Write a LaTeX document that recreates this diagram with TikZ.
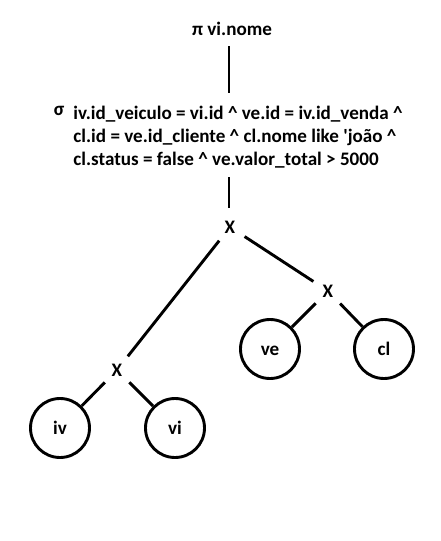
\documentclass[tikz,border=0pt]{standalone}
\usepackage{fontspec}
\setmainfont{Carlito}[Ligatures=TeXOff]
\begin{document}
\begin{tikzpicture}[x=1pt,y=-1pt,line width=2.9pt,
  txt/.style={font=\fontsize{19.1}{23}\selectfont\bfseries,inner sep=0pt},
  opx/.style={txt,circle,minimum size=32pt},
  rel/.style={txt,draw,circle,minimum size=59pt,text height=13pt,text depth=0pt}]
\useasboundingbox (0,0) rectangle (441,541);
\fill[white] (0,0) rectangle (441,541);
\node[txt,anchor=base] (pi) at (232,35) {π vi.nome};
\node[txt] (sig) at (59,111) {σ};
\node[txt,anchor=base west] (c1) at (72,119) {iv.id\_veiculo = vi.id \^{} ve.id = iv.id\_venda \^{}};
\node[txt,anchor=base west] (c2) at (72,142) {cl.id = ve.id\_cliente \^{} cl.nome like 'joão \^{}};
\node[txt,anchor=base west] (c3) at (72,165) {cl.status = false \^{} ve.valor\_total > 5000};
\coordinate (l1a) at (229,46);
\coordinate (l1b) at (229,93);
\coordinate (l2a) at (229,177);
\coordinate (l2b) at (229,208);
\draw (l1a) -- (l1b);
\draw (l2a) -- (l2b);
\node[opx] (x1) at (230,227) {X};
\node[opx] (x2) at (328,291) {X};
\node[opx] (x3) at (117,370) {X};
\node[rel] (ve) at (270,349) {ve};
\node[rel] (cl) at (384,349) {cl};
\node[rel] (iv) at (60,428) {iv};
\node[rel] (vi) at (175,428) {vi};
\draw (x1) -- (x3);
\draw (x1) -- (x2);
\draw (x2) -- (ve);
\draw (x2) -- (cl);
\draw (x3) -- (iv);
\draw (x3) -- (vi);
\end{tikzpicture}
\end{document}
